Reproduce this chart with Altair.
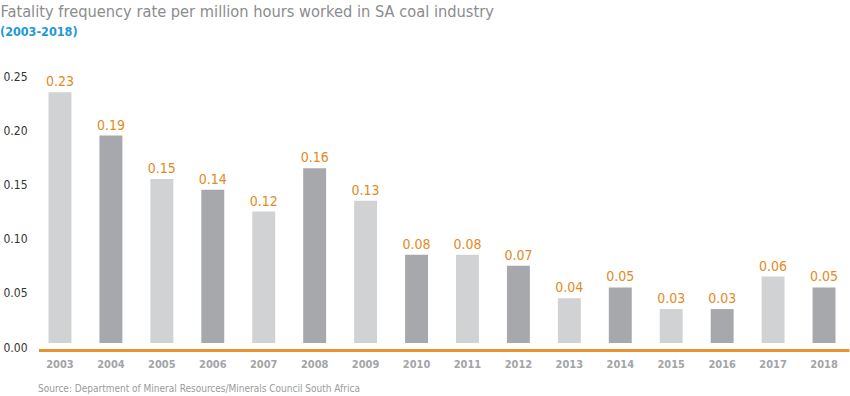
import altair as alt
import pandas as pd

years = ["2003", "2004", "2005", "2006", "2007", "2008", "2009", "2010",
         "2011", "2012", "2013", "2014", "2015", "2016", "2017", "2018"]
rates = [0.235, 0.195, 0.155, 0.145, 0.125, 0.165, 0.135, 0.085,
         0.085, 0.075, 0.045, 0.055, 0.035, 0.035, 0.065, 0.055]
labels = ["0.23", "0.19", "0.15", "0.14", "0.12", "0.16", "0.13", "0.08",
          "0.08", "0.07", "0.04", "0.05", "0.03", "0.03", "0.06", "0.05"]

title_text = "Fatality frequency rate per million hours worked in SA coal industry"
subtitle_text = "(2003-2018)"
source_text = "Source: Department of Mineral Resources/Minerals Council South Africa"

FONT = "DejaVu Sans Condensed, Liberation Sans Narrow, sans-serif"
W, H = 815, 271

df = pd.DataFrame({
    "year": years,
    "rate": rates,
    "label": labels,
    "tone": ["light" if i % 2 == 0 else "dark" for i in range(len(years))],
})

x = alt.X("year:N", sort=years, title=None,
          scale=alt.Scale(paddingInner=0.55, paddingOuter=0.275),
          axis=alt.Axis(labelAngle=0, domain=False, ticks=False, tickSize=0,
                        labelPadding=17, labelBaseline="middle",
                        labelFont=FONT, labelFontSize=11, labelFontWeight="bold",
                        labelColor="#a3a4a7"))
y = alt.Y("rate:Q", title=None,
          scale=alt.Scale(domain=[0, 0.25], nice=False),
          axis=alt.Axis(values=[0, 0.05, 0.10, 0.15, 0.20, 0.25], format=".2f",
                        grid=False, domain=False, ticks=False, tickSize=0,
                        labelAlign="left", labelPadding=31.5,
                        labelFont=FONT, labelFontSize=12, labelColor="#333333"))

base = alt.Chart(df)

bars = base.mark_bar(y2Offset=-4).encode(
    x=x, y=y, y2=alt.datum(0),
    color=alt.Color("tone:N", legend=None,
                    scale=alt.Scale(domain=["light", "dark"],
                                    range=["#d1d2d4", "#a7a8ab"])),
)

text = base.mark_text(baseline="alphabetic", dy=-6, font=FONT, fontSize=14,
                      color="#e38a24").encode(x=x, y=y, text="label:N")

axis_line = alt.Chart(pd.DataFrame({"k": [0]})).mark_rule(
    color="#e8942e", strokeWidth=3).encode(
    x=alt.value(4.5), x2=alt.value(W), y=alt.value(274.5))

def note(txt, xv, yv, size, color, weight="normal"):
    return alt.Chart(pd.DataFrame({"t": [txt]})).mark_text(
        align="left", baseline="alphabetic", font=FONT, fontSize=size,
        color=color, fontWeight=weight).encode(
        x=alt.value(xv), y=alt.value(yv), text="t:N")

title = note(title_text, -34, -59, 16.3, "#8c8c8e")
subtitle = note(subtitle_text, -34.5, -40, 12.5, "#1d9ad6", "bold")
source = note(source_text, 3.5, 316, 10, "#9a9a9c")

chart = alt.layer(bars, text, axis_line, title, subtitle, source).properties(
    width=W, height=H,
    autosize=alt.AutoSizeParams(type="none"),
    padding={"left": 34.5, "top": 76, "right": 0.5, "bottom": 49},
).configure_view(stroke=None)

chart.save("out.html", embed_options={"renderer": "svg", "actions": False})
